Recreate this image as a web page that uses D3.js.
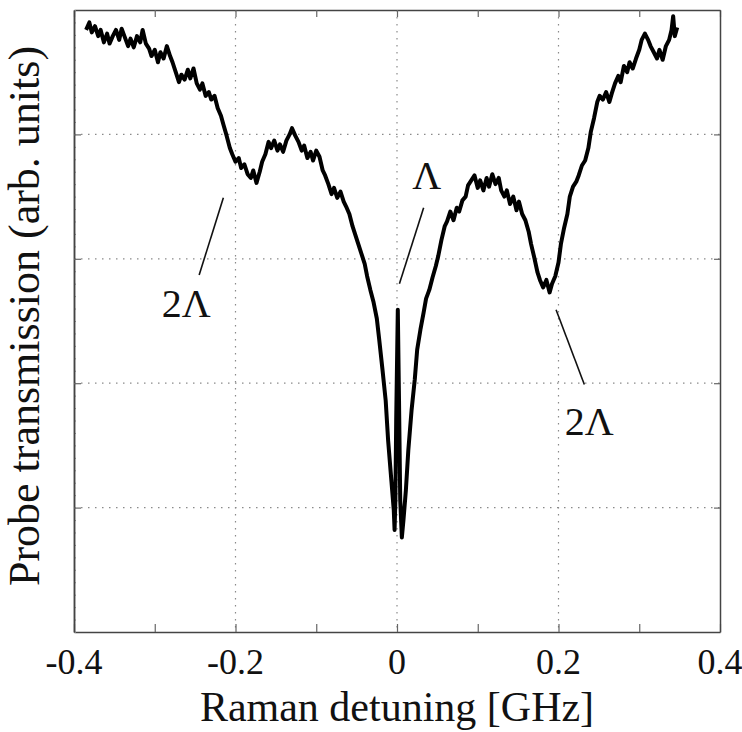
<!DOCTYPE html>
<html><head><meta charset="utf-8">
<script src="https://cdn.jsdelivr.net/npm/d3@7"></script>
<style>body{margin:0;background:#fff}</style>
</head><body>
<svg id="chart" width="742" height="732"></svg>
<script>
// Raman detuning [GHz]
const detuning = [-0.385,-0.381,-0.378,-0.374,-0.370,-0.367,-0.363,-0.359,-0.356,-0.352,-0.348,-0.344,-0.341,-0.337,-0.333,-0.330,-0.326,-0.322,-0.318,-0.315,-0.311,-0.307,-0.304,-0.300,-0.296,-0.293,-0.289,-0.285,-0.281,-0.278,-0.274,-0.270,-0.267,-0.263,-0.259,-0.256,-0.252,-0.248,-0.244,-0.241,-0.237,-0.233,-0.230,-0.226,-0.222,-0.218,-0.215,-0.211,-0.207,-0.204,-0.200,-0.196,-0.193,-0.189,-0.185,-0.181,-0.178,-0.174,-0.170,-0.167,-0.163,-0.159,-0.156,-0.152,-0.148,-0.145,-0.141,-0.137,-0.133,-0.130,-0.126,-0.122,-0.118,-0.115,-0.111,-0.107,-0.104,-0.100,-0.096,-0.092,-0.089,-0.085,-0.081,-0.078,-0.074,-0.070,-0.066,-0.063,-0.059,-0.055,-0.052,-0.048,-0.044,-0.040,-0.037,-0.033,-0.029,-0.025,-0.022,-0.018,-0.014,-0.011,-0.007,-0.004,-0.003,-0.002,-0.001,0.001,0.0025,0.004,0.006,0.008,0.011,0.014,0.018,0.022,0.025,0.029,0.033,0.036,0.040,0.044,0.048,0.051,0.055,0.059,0.062,0.066,0.070,0.074,0.077,0.081,0.085,0.088,0.092,0.096,0.100,0.103,0.107,0.111,0.114,0.118,0.122,0.126,0.129,0.133,0.136,0.140,0.144,0.148,0.151,0.155,0.159,0.163,0.166,0.170,0.174,0.177,0.181,0.185,0.189,0.192,0.196,0.200,0.203,0.207,0.211,0.214,0.218,0.222,0.225,0.229,0.233,0.237,0.240,0.244,0.248,0.251,0.255,0.259,0.263,0.266,0.270,0.274,0.277,0.281,0.285,0.288,0.292,0.296,0.300,0.303,0.307,0.311,0.314,0.318,0.322,0.325,0.329,0.333,0.337,0.340,0.342,0.344,0.347];
// Probe transmission (arb. units)
const transmission = [4.84,4.90,4.82,4.87,4.79,4.84,4.74,4.81,4.73,4.79,4.84,4.76,4.85,4.78,4.71,4.77,4.70,4.79,4.74,4.84,4.73,4.69,4.63,4.68,4.58,4.66,4.61,4.71,4.63,4.58,4.50,4.42,4.48,4.44,4.52,4.45,4.53,4.41,4.36,4.41,4.31,4.34,4.28,4.31,4.21,4.15,4.08,3.99,3.89,3.84,3.78,3.81,3.73,3.76,3.68,3.65,3.71,3.61,3.70,3.78,3.84,3.94,3.89,3.95,3.87,3.92,3.86,3.95,4.00,4.05,3.99,3.94,3.87,3.91,3.81,3.86,3.79,3.87,3.82,3.71,3.67,3.60,3.52,3.57,3.49,3.54,3.46,3.42,3.36,3.26,3.20,3.12,3.04,2.96,2.86,2.75,2.65,2.52,2.35,2.11,1.86,1.54,1.22,0.98,0.82,1.06,1.70,2.59,1.86,1.06,0.76,0.90,1.14,1.46,1.78,2.03,2.27,2.43,2.57,2.68,2.75,2.85,2.94,3.02,3.15,3.26,3.30,3.38,3.31,3.41,3.38,3.47,3.50,3.59,3.63,3.67,3.57,3.63,3.55,3.65,3.58,3.68,3.60,3.65,3.55,3.50,3.55,3.44,3.50,3.39,3.46,3.36,3.31,3.22,3.12,3.01,2.89,2.83,2.77,2.83,2.73,2.80,2.86,2.97,3.12,3.25,3.36,3.50,3.58,3.62,3.67,3.75,3.79,3.89,4.02,4.13,4.26,4.31,4.28,4.34,4.26,4.33,4.41,4.47,4.42,4.55,4.50,4.58,4.53,4.61,4.68,4.76,4.81,4.76,4.71,4.66,4.61,4.68,4.60,4.71,4.76,4.84,4.95,4.79,4.86];
const xTicks = [-0.4,-0.3,-0.2,-0.1,0,0.1,0.2,0.3,0.4];
const xTickLabels = ["-0.4","-0.2","0","0.2","0.4"];
const xLabelValues = [-0.4,-0.2,0,0.2,0.4];
const xGrid = [-0.2,0,0.2];
const yGrid = [1,2,3,4];
const annLabels = ["2Λ","Λ","2Λ"];
const annTextX = [-0.261,0.037,0.238];
const annTextY = [2.53,3.56,1.58];
const annLineX1 = [-0.215,0.033,0.197];
const annLineY1 = [3.49,3.41,2.59];
const annLineX2 = [-0.245,0.003,0.232];
const annLineY2 = [2.87,2.80,1.99];

const svg = d3.select("#chart");
const L = 74, R = 720, T = 10, B = 632;
const x = d3.scaleLinear().domain([-0.4,0.4]).range([L,R]);
const y = d3.scaleLinear().domain([0,5]).range([B,T]);
const font = "'Liberation Serif','Times New Roman',serif";

// grid
const grid = svg.append("g").attr("stroke","#8a8a8a").attr("stroke-width",1.2).attr("stroke-dasharray","1.5,5.5");
grid.selectAll("line.gx").data(xGrid).join("line").attr("x1",d=>x(d)).attr("x2",d=>x(d)).attr("y1",T).attr("y2",B);
grid.selectAll("line.gy").data(yGrid).join("line").attr("y1",d=>y(d)).attr("y2",d=>y(d)).attr("x1",L).attr("x2",R);

// axes
const axColor = "#444";
const gB = svg.append("g").attr("transform",`translate(0,${B})`)
  .call(d3.axisBottom(x).tickValues(xTicks).tickSizeInner(-8).tickSizeOuter(0).tickFormat(""));
const gT = svg.append("g").attr("transform",`translate(0,${T})`)
  .call(d3.axisTop(x).tickValues(xTicks).tickSizeInner(-7).tickSizeOuter(0).tickFormat(""));
const minorY = d3.range(0,51).map(i=>i/10);
const gL = svg.append("g").attr("transform",`translate(${L},0)`)
  .call(d3.axisLeft(y).tickValues(minorY).tickSizeInner(-2).tickSizeOuter(0).tickFormat(""));
const gL2 = svg.append("g").attr("transform",`translate(${L},0)`)
  .call(d3.axisLeft(y).tickValues(yGrid).tickSizeInner(-7).tickSizeOuter(0).tickFormat(""));
const gR = svg.append("g").attr("transform",`translate(${R},0)`)
  .call(d3.axisRight(y).tickValues(yGrid).tickSizeInner(-6).tickSizeOuter(0).tickFormat(""));
[gB,gT,gL,gL2,gR].forEach(g=>{
  g.select(".domain").attr("stroke",axColor).attr("stroke-width",1.5);
  g.selectAll(".tick line").attr("stroke","#666").attr("stroke-width",1.2);
});
gL.selectAll(".tick line").attr("stroke","#888").attr("stroke-width",1);

// tick labels
svg.append("g").selectAll("text").data(xLabelValues).join("text")
  .attr("x",d=>x(d)).attr("y",674).attr("text-anchor","middle")
  .attr("font-family",font).attr("font-size",36).attr("fill","#111")
  .text((d,i)=>xTickLabels[i]);

// axis titles
svg.append("text").attr("x",(L+R)/2).attr("y",721).attr("text-anchor","middle")
  .attr("font-family",font).attr("font-size",42).attr("fill","#111").text("Raman detuning [GHz]");
svg.append("text").attr("transform","translate(39,316) rotate(-90)").attr("text-anchor","middle")
  .attr("font-family",font).attr("font-size",44).attr("fill","#111").text("Probe transmission (arb. units)");

// curve
const pts = detuning.map((d,i)=>[d,transmission[i]]);
svg.append("path").datum(pts)
  .attr("d",d3.line().x(d=>x(d[0])).y(d=>y(d[1])))
  .attr("fill","none").attr("stroke","#000").attr("stroke-width",4).attr("stroke-linejoin","round");

// annotations
const ann = svg.append("g");
ann.selectAll("line").data(annLabels).join("line")
  .attr("x1",(d,i)=>x(annLineX1[i])).attr("y1",(d,i)=>y(annLineY1[i]))
  .attr("x2",(d,i)=>x(annLineX2[i])).attr("y2",(d,i)=>y(annLineY2[i]))
  .attr("stroke","#111").attr("stroke-width",1.6);
ann.selectAll("text").data(annLabels).join("text")
  .attr("x",(d,i)=>x(annTextX[i])).attr("y",(d,i)=>y(annTextY[i]))
  .attr("text-anchor","middle").attr("font-family",font).attr("font-size",40).attr("fill","#111")
  .text(d=>d);
</script>
</body></html>
